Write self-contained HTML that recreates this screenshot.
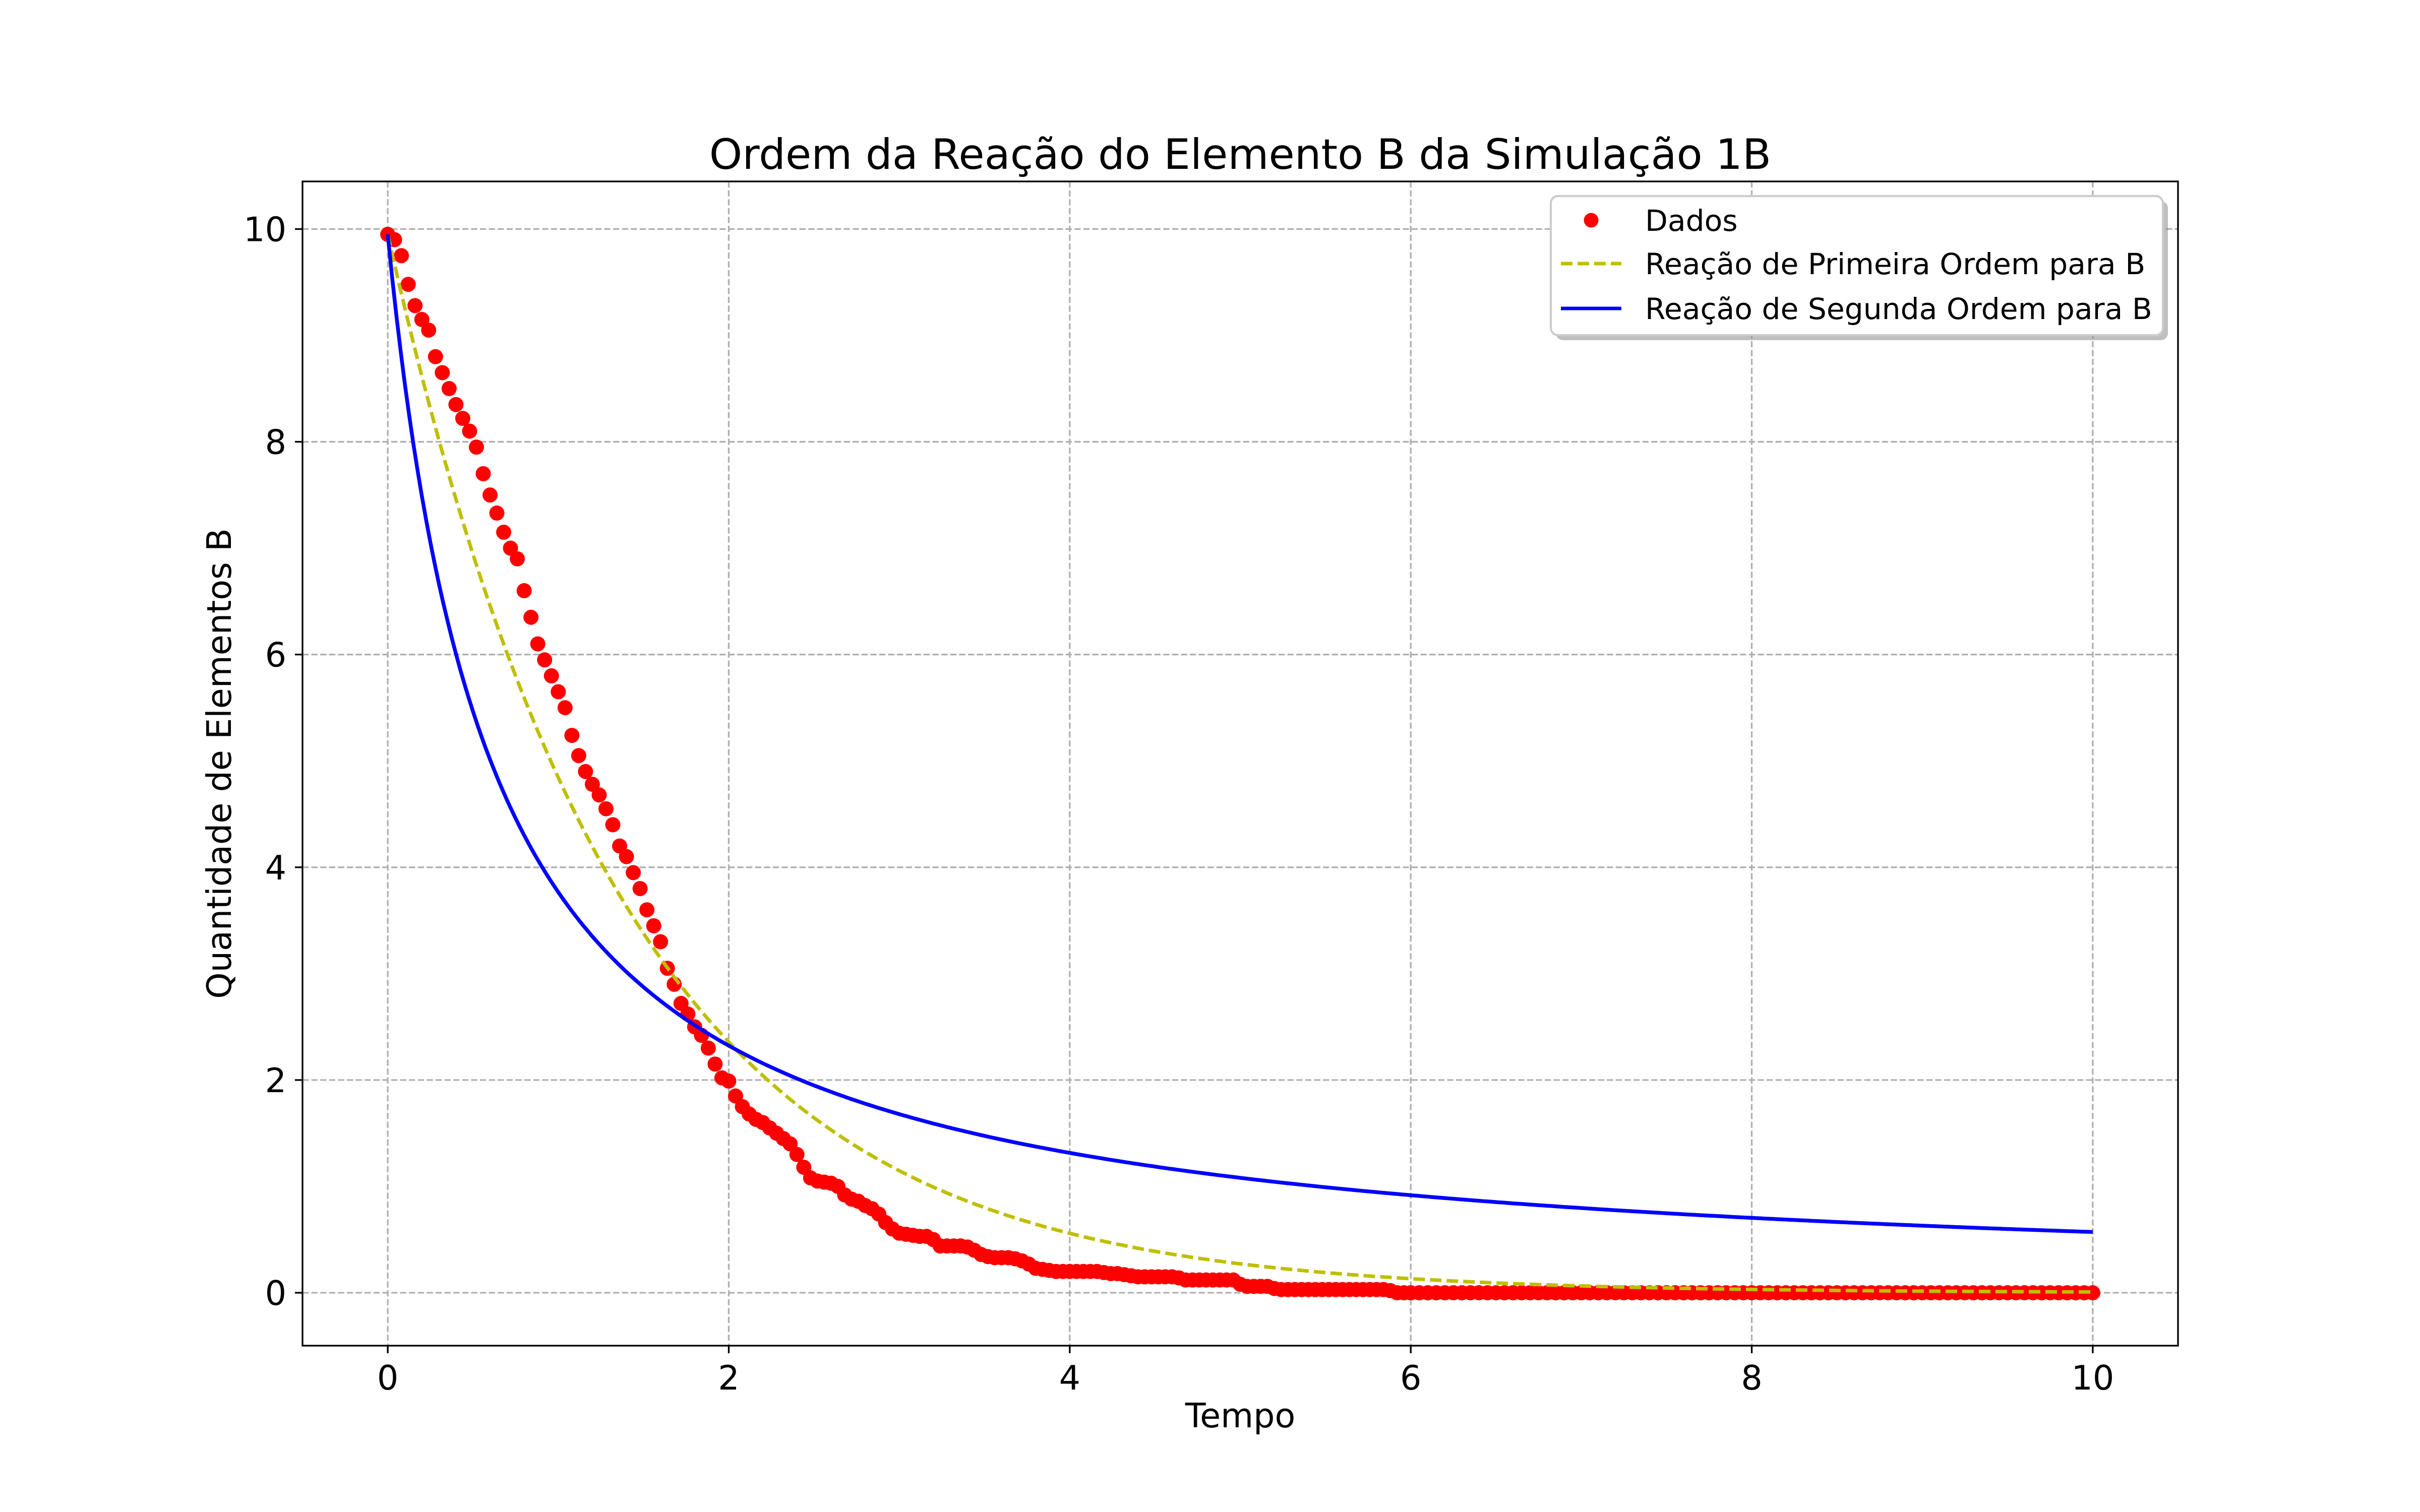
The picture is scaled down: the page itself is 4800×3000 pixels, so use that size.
<!DOCTYPE html>
<html><head><meta charset="utf-8"><style>
html,body{margin:0;padding:0;background:#fff;}
svg{display:block;font-family:"DejaVu Sans","Liberation Sans",sans-serif;}
</style></head><body>
<svg id="chart" width="4800" height="3000" viewBox="0 0 4800 3000" xmlns="http://www.w3.org/2000/svg">
<rect width="4800" height="3000" fill="#fff"/>
<g id="grid"></g>
<g id="ticks"></g>
<g id="series"></g>
<rect x="600" y="360" width="3720" height="2310" fill="none" stroke="#000" stroke-width="3.33"/>
<text x="2460" y="335" font-size="83.3" text-anchor="middle">Ordem da Reação do Elemento B da Simulação 1B</text>
<text x="2460" y="2832" font-size="66.7" text-anchor="middle">Tempo</text>
<text x="0" y="0" font-size="66.7" text-anchor="middle" transform="translate(458,1515) rotate(-90)">Quantidade de Elementos B</text>
<g>
<rect x="3086" y="399" width="1214" height="276" rx="14" fill="#808080" opacity="0.5"/>
<rect x="3076" y="389" width="1214" height="276" rx="14" fill="#fff" stroke="#cccccc" stroke-width="4.2"/>
<circle cx="3156" cy="437" r="14.5" fill="#ff0000"/>
<text x="3263" y="458" font-size="58.3">Dados</text>
<line x1="3096" y1="523" x2="3216" y2="523" stroke="#bfbf00" stroke-width="7" stroke-dasharray="23,10"/>
<text x="3263" y="544" font-size="58.3">Reação de Primeira Ordem para B</text>
<line x1="3096" y1="612" x2="3216" y2="612" stroke="#0000ff" stroke-width="7"/>
<text x="3263" y="633" font-size="58.3">Reação de Segunda Ordem para B</text>
</g>
</svg>
<script>
const xTicks=[0,2,4,6,8,10];
const yTicks=[0,2,4,6,8,10];
const dataT=[
0,0.04,0.08,0.12,0.16,0.20,0.24,0.28,0.32,0.36,
0.40,0.44,0.48,0.52,0.56,0.60,0.64,0.68,0.72,0.76,
0.80,0.84,0.88,0.92,0.96,1.00,1.04,1.08,1.12,1.16,
1.20,1.24,1.28,1.32,1.36,1.40,1.44,1.48,1.52,1.56,
1.60,1.64,1.68,1.72,1.76,1.80,1.84,1.88,1.92,1.96,
2.00,2.04,2.08,2.12,2.16,2.20,2.24,2.28,2.32,2.36,
2.40,2.44,2.48,2.52,2.56,2.60,2.64,2.68,2.72,2.76,
2.80,2.84,2.88,2.92,2.96,3.00,3.04,3.08,3.12,3.16,
3.20,3.24,3.28,3.32,3.36,3.40,3.44,3.48,3.52,3.56,
3.60,3.64,3.68,3.72,3.76,3.80,3.84,3.88,3.92,3.96,
4.00,4.04,4.08,4.12,4.16,4.20,4.24,4.28,4.32,4.36,
4.40,4.44,4.48,4.52,4.56,4.60,4.64,4.68,4.72,4.76,
4.80,4.84,4.88,4.92,4.96,5.00,5.04,5.08,5.12,5.16,
5.20,5.24,5.28,5.32,5.36,5.40,5.44,5.48,5.52,5.56,
5.60,5.64,5.68,5.72,5.76,5.80,5.84,5.88,5.92,5.96,
6.00,6.05,6.10,6.15,6.20,6.25,6.30,6.35,6.40,6.45,
6.50,6.55,6.60,6.65,6.70,6.75,6.80,6.85,6.90,6.95,
7.00,7.05,7.10,7.15,7.20,7.25,7.30,7.35,7.40,7.45,
7.50,7.55,7.60,7.65,7.70,7.75,7.80,7.85,7.90,7.95,
8.00,8.05,8.10,8.15,8.20,8.25,8.30,8.35,8.40,8.45,
8.50,8.55,8.60,8.65,8.70,8.75,8.80,8.85,8.90,8.95,
9.00,9.05,9.10,9.15,9.20,9.25,9.30,9.35,9.40,9.45,
9.50,9.55,9.60,9.65,9.70,9.75,9.80,9.85,9.90,9.95,
10.00];
const dataY=[
9.95,9.9,9.75,9.48,9.28,9.15,9.05,8.8,8.65,8.5,
8.35,8.22,8.1,7.95,7.7,7.5,7.33,7.15,7.0,6.9,
6.6,6.35,6.1,5.95,5.8,5.65,5.5,5.24,5.05,4.9,
4.78,4.68,4.55,4.4,4.2,4.1,3.95,3.8,3.6,3.45,
3.3,3.05,2.9,2.72,2.62,2.5,2.42,2.3,2.15,2.02,
1.99,1.85,1.75,1.68,1.63,1.6,1.55,1.5,1.45,1.4,
1.3,1.18,1.08,1.05,1.04,1.03,1.0,0.92,0.88,0.86,
0.82,0.79,0.74,0.66,0.6,0.56,0.55,0.54,0.53,0.53,
0.5,0.44,0.44,0.44,0.44,0.43,0.4,0.36,0.34,0.33,
0.33,0.33,0.32,0.3,0.27,0.23,0.22,0.21,0.2,0.2,
0.2,0.2,0.2,0.2,0.2,0.19,0.18,0.18,0.17,0.16,
0.15,0.15,0.15,0.15,0.15,0.15,0.14,0.12,0.12,0.12,
0.12,0.12,0.12,0.12,0.12,0.08,0.06,0.06,0.06,0.06,
0.04,0.03,0.03,0.03,0.03,0.03,0.03,0.03,0.03,0.03,
0.03,0.03,0.03,0.03,0.03,0.03,0.03,0.02,0,0,
0,0,0,0,0,0,0,0,0,0,
0,0,0,0,0,0,0,0,0,0,
0,0,0,0,0,0,0,0,0,0,
0,0,0,0,0,0,0,0,0,0,
0,0,0,0,0,0,0,0,0,0,
0,0,0,0,0,0,0,0,0,0,
0,0,0,0,0,0,0,0,0,0,
0,0,0,0,0,0,0,0,0,0,
0];
const firstOrderParams=[9.95,0.72];
const secondOrderParams=[9.95,0.165];
const ns="http://www.w3.org/2000/svg";
function sx(t){return 600+(t+0.5)*(3720/11);}
function sy(v){return 2670-(v+0.4975)*(2310/10.945);}
function mk(tag,attrs,parent){const e=document.createElementNS(ns,tag);for(const k in attrs)e.setAttribute(k,attrs[k]);parent.appendChild(e);return e;}
const grid=document.getElementById('grid'),ticks=document.getElementById('ticks'),series=document.getElementById('series');
xTicks.forEach(v=>{
  const g=mk('line',{x1:sx(v),x2:sx(v),y1:360,y2:2670,stroke:'#b0b0b0','stroke-width':3.33,'stroke-dasharray':'12.3,5.3'},grid);
  
  
  const t=mk('line',{x1:sx(v),x2:sx(v),y1:2670,y2:2685,stroke:'#000','stroke-width':3.33},ticks);
  
  
  const l=mk('text',{x:sx(v),y:2757,'font-size':66.7,'text-anchor':'middle'},ticks);
  l.textContent=v;
  
  
});
yTicks.forEach(v=>{
  const g=mk('line',{x1:600,x2:4320,y1:sy(v),y2:sy(v),stroke:'#b0b0b0','stroke-width':3.33,'stroke-dasharray':'12.3,5.3'},grid);
  
  
  const t=mk('line',{x1:585,x2:600,y1:sy(v),y2:sy(v),stroke:'#000','stroke-width':3.33},ticks);
  
  
  const l=mk('text',{x:568,y:sy(v)+24,'font-size':66.7,'text-anchor':'end'},ticks);
  l.textContent=v;
  
  
});
const dots=mk('g',{},series);


const nPts=Math.min(dataT.length,dataY.length);
for(let i=0;i<nPts;i++){
  const c=mk('circle',{cx:sx(dataT[i]),cy:sy(dataY[i]),r:15,fill:'#ff0000'},dots);
  
  
}
let p1=[],p2=[];
for(let i=0;i<=400;i++){const t=i*10/400;
  p1.push(sx(t).toFixed(1)+','+sy(firstOrderParams[0]*Math.exp(-firstOrderParams[1]*t)).toFixed(1));
  p2.push(sx(t).toFixed(1)+','+sy(1/(1/secondOrderParams[0]+secondOrderParams[1]*t)).toFixed(1));}
const l1=mk('polyline',{points:p1.join(' '),fill:'none',stroke:'#bfbf00','stroke-width':7,'stroke-dasharray':'23,10'},series);


const l2=mk('polyline',{points:p2.join(' '),fill:'none',stroke:'#0000ff','stroke-width':7.5},series);


</script>
</body></html>
